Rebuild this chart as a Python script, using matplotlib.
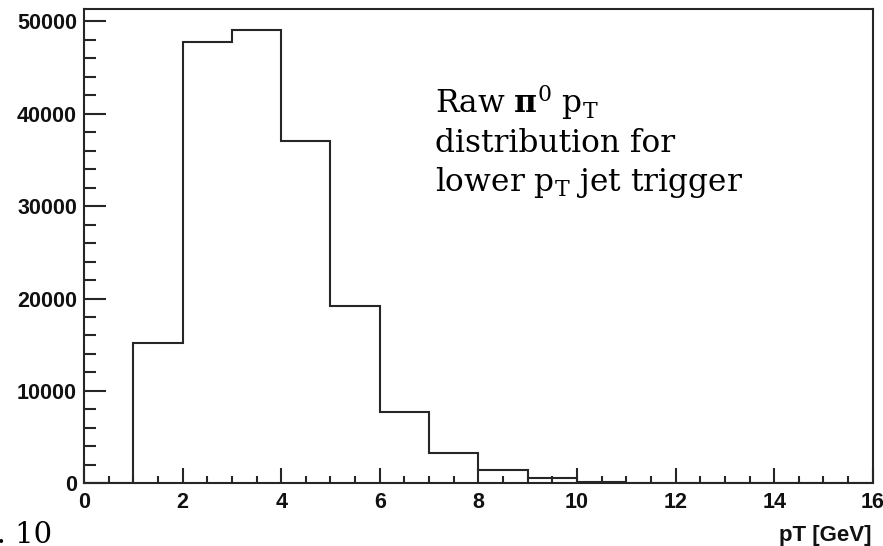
import matplotlib
matplotlib.use("Agg")
import matplotlib.pyplot as plt
import numpy as np
from matplotlib.ticker import MultipleLocator

# raw pi0 pT spectrum, 1 GeV bins from 0 to 16 GeV
bin_edges = np.arange(0, 17, 1)
counts = [0, 15200, 47700, 49000, 37050, 19150, 7750, 3250,
          1450, 550, 180, 90, 0, 0, 0, 0]

plt.rcParams["mathtext.fontset"] = "dejavuserif"

fig = plt.figure(figsize=(8.83, 5.46), dpi=100)
ax = fig.add_axes([0.0951, 0.1145, 0.8933, 0.869])

line_col = "#262626"
ax.stairs(counts, bin_edges, color=line_col, linewidth=1.5, baseline=0)

ax.set_xlim(0, 16)
ax.set_ylim(0, 51300)

ax.xaxis.set_major_locator(MultipleLocator(2))
ax.xaxis.set_minor_locator(MultipleLocator(0.5))
ax.yaxis.set_major_locator(MultipleLocator(10000))
ax.yaxis.set_minor_locator(MultipleLocator(2000))

ax.tick_params(axis="both", which="both", direction="in", color=line_col,
               width=1.5, top=False, right=False)
ax.tick_params(axis="y", which="major", length=16, pad=5)
ax.tick_params(axis="y", which="minor", length=8.5)
ax.tick_params(axis="x", which="major", length=11, pad=6)
ax.tick_params(axis="x", which="minor", length=5)

for lab in ax.get_xticklabels() + ax.get_yticklabels():
    lab.set_fontfamily("Liberation Sans")
    lab.set_fontweight("bold")
    lab.set_fontsize(15.5)
    lab.set_color("#111111")

for sp in ax.spines.values():
    sp.set_color(line_col)
    sp.set_linewidth(1.5)

fig.text(0.987, 5 / 546, "pT [GeV]", ha="right", va="baseline",
         fontfamily="Liberation Sans", fontweight="bold", fontsize=16,
         color="#111111")

serif = dict(fontfamily="DejaVu Serif", fontsize=22.5, color="black",
             ha="left", va="baseline")
fig.text(435 / 883, 1 - 113 / 546, r"Raw $\mathbf{\pi}^0$ p$_\mathrm{T}$", **serif)
fig.text(435 / 883, 1 - 152 / 546, "distribution for", **serif)
fig.text(435 / 883, 1 - 191 / 546, r"lower p$_\mathrm{T}$ jet trigger", **serif)

fig.text(52 / 883, 1 - 543 / 546, "p. 10", fontfamily="DejaVu Serif",
         fontsize=21, color="black", ha="right", va="baseline")

fig.savefig("out.png", dpi=100)
